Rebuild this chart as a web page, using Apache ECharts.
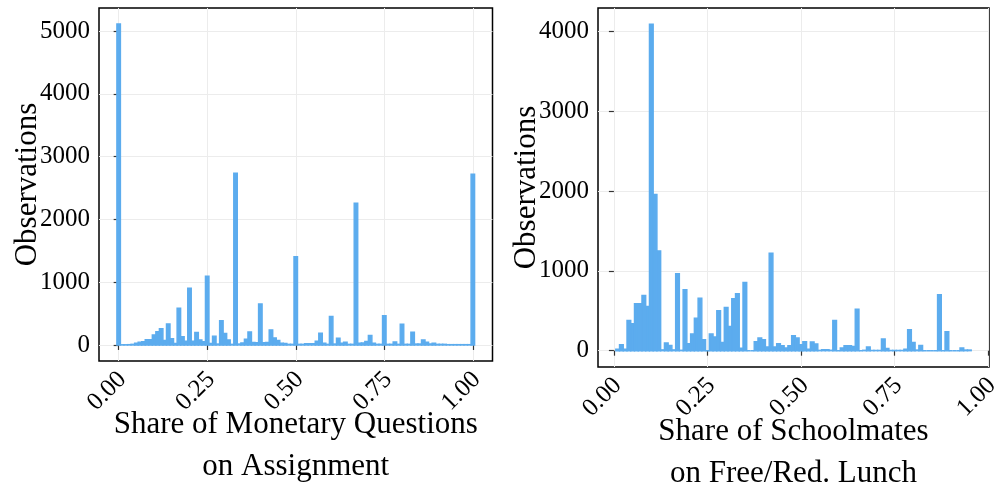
<!DOCTYPE html>
<html>
<head>
<meta charset="utf-8">
<script src="https://cdn.jsdelivr.net/npm/echarts@6/dist/echarts.min.js"></script>
<style>
  html, body { margin: 0; padding: 0; background: #ffffff; }
  #chart { width: 998px; height: 489px; }
</style>
</head>
<body>
<div id="chart"></div>
<script>
// Histogram bins are 0.01 wide; each list gives the count per bin, first bin centre given separately.
const binWidth = 0.01;

// Share of monetary questions on assignment: bins centred at 0.00 ... 1.00
const monetaryFirstBin = 0.00;
const monetaryCounts = [
  5111, 3, 3, 5, 10, 27, 45, 50, 85, 85,
  160, 212, 260, 70, 335, 100, 25, 585, 130, 60,
  903, 60, 200, 80, 50, 1094, 25, 140, 15, 385,
  185, 80, 10, 2734, 15, 30, 90, 207, 40, 35,
  653, 37, 40, 240, 112, 70, 27, 25, 10, 10,
  1406, 10, 10, 20, 20, 20, 60, 186, 27, 10,
  452, 15, 106, 27, 43, 10, 10, 2256, 27, 30,
  55, 150, 27, 10, 10, 467, 10, 10, 48, 10,
  329, 10, 10, 202, 15, 15, 80, 43, 16, 27,
  10, 10, 10, 5, 5, 5, 5, 5, 5, 5,
  2718
];

// Share of schoolmates on free/reduced lunch: bins centred at 0.01 ... 0.95
const lunchFirstBin = 0.01;
const lunchCounts = [
  20, 75, 20, 380, 338, 588, 588, 692, 555, 4087,
  1958, 1250, 10, 96, 67, 10, 963, 5, 763, 88,
  208, 408, 658, 138, 0, 208, 171, 500, 104, 542,
  304, 650, 713, 30, 854, 0, 0, 113, 158, 138,
  46, 1221, 46, 88, 63, 33, 63, 188, 158, 75,
  113, 20, 108, 83, 4, 12, 12, 5, 380, 0,
  33, 63, 63, 54, 521, 0, 5, 46, 3, 3,
  3, 146, 29, 3, 3, 3, 3, 20, 262, 104,
  8, 67, 0, 0, 0, 0, 700, 0, 237, 0,
  0, 0, 33, 8, 8
];

const xTickValues = [0, 0.25, 0.5, 0.75, 1];
const leftYTickValues = [0, 1000, 2000, 3000, 4000, 5000];
const rightYTickValues = [0, 1000, 2000, 3000, 4000];

const leftXTitle = 'Share of Monetary Questions\non Assignment';
const rightXTitle = 'Share of Schoolmates\non Free/Red. Lunch';
const yTitle = 'Observations';

const BAR = '#5CACEE';
const FONT = '"Liberation Serif", "DejaVu Serif", serif';

function toPairs(first, counts) {
  return counts.map((c, i) => [+(first + i * binWidth).toFixed(2), c]);
}

// 5% padding around the data range on both axes
function paddedRange(lo, hi) {
  const pad = (hi - lo) * 0.05;
  return [lo - pad, hi + pad];
}

const leftX = paddedRange(monetaryFirstBin - binWidth / 2,
  monetaryFirstBin + (monetaryCounts.length - 1) * binWidth + binWidth / 2);
const leftY = paddedRange(0, Math.max(...monetaryCounts));
const rightXLo = paddedRange(lunchFirstBin - binWidth / 2,
  lunchFirstBin + (lunchCounts.length - 1) * binWidth + binWidth / 2)[0];
const rightY = paddedRange(0, Math.max(...lunchCounts));

function renderBin(params, api) {
  const x = api.value(0);
  const y = api.value(1);
  const p0 = api.coord([x - binWidth / 2, 0]);
  const p1 = api.coord([x + binWidth / 2, y]);
  return {
    type: 'rect',
    shape: { x: p0[0], y: p1[1], width: p1[0] - p0[0], height: p0[1] - p1[1] },
    style: { fill: BAR, stroke: BAR, lineWidth: 1.4 }
  };
}

function xAxisFor(gridIndex, min, max, title, gap) {
  return {
    type: 'value', gridIndex, min, max,
    axisLine: { show: false },
    axisTick: { show: true, length: 5, customValues: xTickValues,
      lineStyle: { color: '#333', width: 1.2 } },
    axisLabel: { customValues: xTickValues, formatter: v => v.toFixed(2),
      rotate: 45, margin: 1, verticalAlign: 'top', padding: [0, 7, 0, 0],
      fontFamily: FONT, fontSize: 25, color: '#000' },
    splitLine: { show: true, lineStyle: { color: '#ececec', width: 1 } },
    name: title, nameLocation: 'middle', nameGap: gap, nameMoveOverlap: false,
    nameTextStyle: { fontFamily: FONT, fontSize: 31, lineHeight: 42, color: '#000' }
  };
}

function yAxisFor(gridIndex, range, ticks) {
  return {
    type: 'value', gridIndex, min: range[0], max: range[1],
    axisLine: { show: false },
    axisTick: { show: true, length: 5, customValues: ticks,
      lineStyle: { color: '#333', width: 1.2 } },
    axisLabel: { customValues: ticks, formatter: v => String(v), margin: 9,
      fontFamily: FONT, fontSize: 25, color: '#000' },
    splitLine: { show: true, lineStyle: { color: '#ececec', width: 1 } },
    name: yTitle, nameLocation: 'middle', nameGap: 56, nameMoveOverlap: false,
    nameTextStyle: { fontFamily: FONT, fontSize: 31, color: '#000' }
  };
}

const chart = echarts.init(document.getElementById('chart'), null, { renderer: 'canvas' });
chart.setOption({
  animation: false,
  backgroundColor: '#ffffff',
  grid: [
    { left: 99, top: 8, width: 393.5, height: 353, show: true, outerBoundsMode: 'none',
      borderColor: '#000', borderWidth: 1.5, backgroundColor: 'transparent' },
    { left: 598, top: 8, width: 391, height: 359, show: true, outerBoundsMode: 'none',
      borderColor: '#000', borderWidth: 1.5, backgroundColor: 'transparent' }
  ],
  xAxis: [
    xAxisFor(0, leftX[0], leftX[1], leftXTitle, 43),
    xAxisFor(1, rightXLo, 1.0025, rightXTitle, 44)
  ],
  yAxis: [
    yAxisFor(0, leftY, leftYTickValues),
    yAxisFor(1, rightY, rightYTickValues)
  ],
  series: [
    { type: 'custom', xAxisIndex: 0, yAxisIndex: 0, renderItem: renderBin,
      data: toPairs(monetaryFirstBin, monetaryCounts) },
    { type: 'custom', xAxisIndex: 1, yAxisIndex: 1, renderItem: renderBin,
      data: toPairs(lunchFirstBin, lunchCounts) }
  ]
});
</script>
</body>
</html>
